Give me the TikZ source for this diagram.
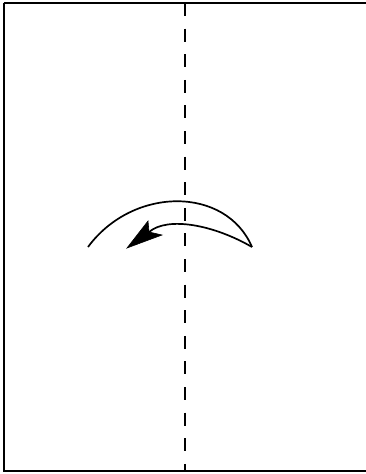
\documentclass[tikz,border=0pt]{standalone}
\begin{document}
\begin{tikzpicture}[x=1pt,y=-1pt,
  frame/.style={line width=2pt},
  foldline/.style={line width=2pt,dash pattern=on 13pt off 12.6pt},
  curve/.style={line width=1.7pt},
  head/.style={fill=black,draw=black,line width=0.6pt,line join=miter}]
\useasboundingbox (0,0) rectangle (365,474);
\draw[frame] (3.5,3) -- (368,3);
\draw[frame] (3.5,3) -- (3.5,471) -- (368,471);
\draw[foldline] (184.5,3) -- (184.5,471);
\draw[curve] (88,247) .. controls (133,186) and (226,186) .. (252,247);
\draw[curve] (252,247) .. controls (214,225) and (168,216) .. (149,232);
\fill[head] (127,248) -- (148,221) -- (149,232) -- (162,235) -- cycle;
\end{tikzpicture}
\end{document}
